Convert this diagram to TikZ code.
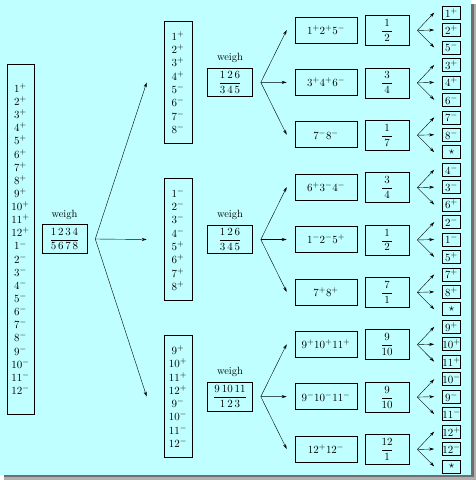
\documentclass[tikz,border=0pt]{standalone}
\usepackage{amsmath}
\usetikzlibrary{arrows.meta}
\definecolor{bg}{RGB}{191,255,255}
\definecolor{shadA}{RGB}{110,110,110}
\definecolor{shadB}{RGB}{175,175,175}
\tikzset{
  box/.style={draw, line width=0.6pt, inner sep=0pt, align=center},
  bigcol/.style={box, minimum width=27pt, minimum height=350pt, font=\fontsize{11}{13.13}\selectfont},
  midcol/.style={box, minimum width=28pt, minimum height=122pt, font=\fontsize{11}{13.3}\selectfont},
  wbox/.style={box, minimum width=45pt, minimum height=28.5pt},
  wlab/.style={inner sep=0pt, font=\fontsize{10.5}{12}\selectfont},
  ibox/.style={box, minimum width=62pt, minimum height=26pt},
  fbox/.style={box, minimum width=44pt, minimum height=30pt},
  sbox/.style={box, minimum width=18pt, minimum height=13pt},
  arr/.style={-{Stealth[length=5pt,width=3pt]}, line width=0.4pt},
}
\newcommand\fracbox[2]{$\dfrac{\makebox[10pt]{$#1$}}{\makebox[10pt]{$#2$}}$}
\begin{document}
\begin{tikzpicture}[x=1pt,y=-1pt, font=\fontsize{11}{13}\selectfont]
\useasboundingbox (0,0) rectangle (476,480);
\fill[shadB] (4,4) rectangle (476,480);
\fill[shadA] (4,4) rectangle (473.5,477);
\fill[bg] (0,0) rectangle (471,474.5);

% left column
\node[bigcol] (L) at (20.5,239) {$1^+$\\$2^+$\\$3^+$\\$4^+$\\$5^+$\\$6^+$\\$7^+$\\$8^+$\\$9^+$\\$10^+$\\$11^+$\\$12^+$\\$1^-$\\$2^-$\\$3^-$\\$4^-$\\$5^-$\\$6^-$\\$7^-$\\$8^-$\\$9^-$\\$10^-$\\$11^-$\\$12^-$};

% first weighing
\node[wlab] (wl0) at (64.5,215) {weigh};
\node[wbox] (W0) at (64.5,239) {$\dfrac{1\,2\,3\,4}{5\,6\,7\,8}$};

% middle columns
\node[midcol] (M1) at (178,82.4) {$1^+$\\$2^+$\\$3^+$\\$4^+$\\$5^-$\\$6^-$\\$7^-$\\$8^-$};
\node[midcol] (M2) at (178,239.5) {$1^-$\\$2^-$\\$3^-$\\$4^-$\\$5^+$\\$6^+$\\$7^+$\\$8^+$};
\node[midcol] (M3) at (178,396.6) {$9^+$\\$10^+$\\$11^+$\\$12^+$\\$9^-$\\$10^-$\\$11^-$\\$12^-$};

\foreach \m in {1,2,3}{
  \coordinate (e\m) at ([xshift=-17pt]M\m.west);
  \draw[arr] ([xshift=8pt]W0.east) -- (e\m);
}

% second weighings
\node[wlab] (wl1) at (230,58) {weigh};
\node[wbox] (W1) at (230,82.4) {$\dfrac{1\,2\,6}{3\,4\,5}$};
\node[wlab] (wl2) at (230,215) {weigh};
\node[wbox] (W2) at (230,239.5) {$\dfrac{1\,2\,6}{3\,4\,5}$};
\node[wlab] (wl3) at (230,372) {weigh};
\node[wbox] (W3) at (230,396.6) {$\dfrac{9\,10\,11}{1\,2\,3}$};

% items and third weighings
\foreach \itm/\fn/\fd [count=\k from 0] in {
  1^+2^+5^-/1/2, 3^+4^+6^-/3/4, 7^-8^-/1/7,
  6^+3^-4^-/3/4, 1^-2^-5^+/1/2, 7^+8^+/7/1,
  9^+10^+11^+/9/10, 9^-10^-11^-/9/10, 12^+12^-/12/1}{
  \pgfmathsetmacro\yy{30+52.375*\k}
  \pgfmathtruncatemacro\w{\k/3+1}
  \node[ibox] (I\k) at (326,\yy) {$\itm$};
  \node[fbox] (F\k) at (387,\yy+0.5) {\fracbox{\fn}{\fd}};
  \draw[arr] ([xshift=8pt]W\w.east) -- ([xshift=-8pt]I\k.west);
}

% final boxes
\foreach \lab [count=\i from 0] in {
  1^+,2^+,5^-, 3^+,4^+,6^-, 7^-,8^-,\star,
  4^-,3^-,6^+, 2^-,1^-,5^+, 7^+,8^+,\star,
  9^+,10^+,11^+, 10^-,9^-,11^-, 12^+,12^-,\star}{
  \pgfmathtruncatemacro\g{\i/3}
  \pgfmathsetmacro\yy{30+52.375*\g+17.4*(mod(\i,3)-1)}
  \node[sbox] (S\i) at (451.5,\yy) {$\lab$};
  \draw[arr] ([xshift=8pt]F\g.east) -- ([xshift=-8pt]S\i.west);
}
\end{tikzpicture}
\end{document}
